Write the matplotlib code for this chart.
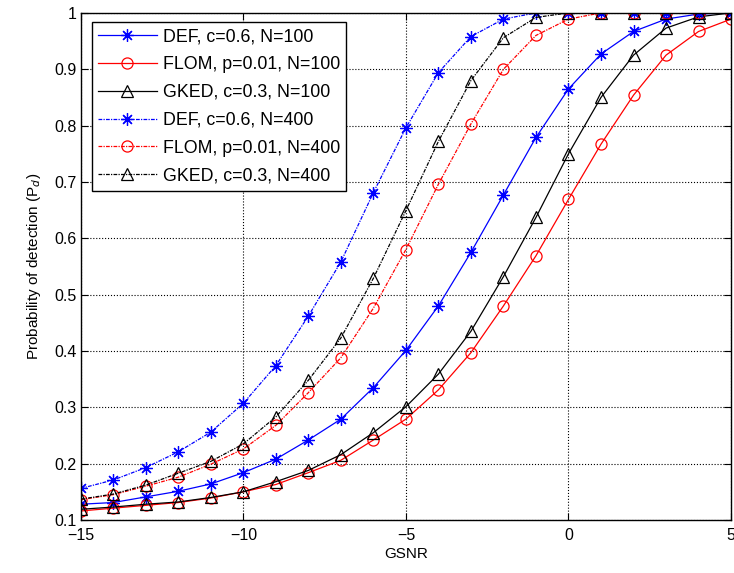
import matplotlib
matplotlib.use("Agg")
import matplotlib.pyplot as plt
import numpy as np

plt.rcParams['font.family'] = ['Liberation Sans', 'DejaVu Sans']

gsnr = np.arange(-15, 6)

def_100 = [0.128, 0.131, 0.141, 0.151, 0.164, 0.184, 0.208, 0.242, 0.279, 0.335, 0.401,
           0.480, 0.575, 0.677, 0.779, 0.865, 0.927, 0.967, 0.989, 0.998, 1.0]
flom_100 = [0.116, 0.121, 0.126, 0.131, 0.139, 0.150, 0.163, 0.184, 0.206, 0.242, 0.279,
            0.331, 0.397, 0.480, 0.569, 0.669, 0.767, 0.854, 0.925, 0.967, 0.989]
gked_100 = [0.119, 0.123, 0.128, 0.132, 0.140, 0.150, 0.168, 0.188, 0.216, 0.255, 0.301,
            0.359, 0.435, 0.532, 0.637, 0.750, 0.850, 0.925, 0.973, 0.993, 1.0]
def_400 = [0.156, 0.171, 0.193, 0.221, 0.256, 0.307, 0.374, 0.462, 0.558, 0.681, 0.796,
           0.894, 0.958, 0.989, 1.0, 1.0, 1.0, 1.0, 1.0, 1.0, 1.0]
flom_400 = [0.136, 0.145, 0.160, 0.176, 0.199, 0.226, 0.268, 0.326, 0.388, 0.476, 0.580,
            0.696, 0.803, 0.900, 0.960, 0.989, 1.0, 1.0, 1.0, 1.0, 1.0]
gked_400 = [0.137, 0.146, 0.162, 0.183, 0.204, 0.235, 0.283, 0.348, 0.423, 0.529, 0.649,
            0.772, 0.880, 0.956, 0.992, 1.0, 1.0, 1.0, 1.0, 1.0, 1.0]

dotted = (0, (3, 1, 1, 1))
star = (8, 2, 0)

series = [
    (def_100, 'b', star, '-', 'DEF, c=0.6, N=100'),
    (flom_100, 'r', 'o', '-', 'FLOM, p=0.01, N=100'),
    (gked_100, 'k', '^', '-', 'GKED, c=0.3, N=100'),
    (def_400, 'b', star, dotted, 'DEF, c=0.6, N=400'),
    (flom_400, 'r', 'o', dotted, 'FLOM, p=0.01, N=400'),
    (gked_400, 'k', '^', dotted, 'GKED, c=0.3, N=400'),
]

fig = plt.figure(figsize=(7.34, 5.73), dpi=100)
ax = fig.add_axes([0.110, 0.0925, 0.886, 0.885])

for vals, col, mk, ls, lab in series:
    size = 8 if mk == 'o' else 9
    ax.plot(gsnr, vals, color=col, linestyle=ls, linewidth=0.9, marker=mk,
            markersize=size, markerfacecolor='none', markeredgecolor=col,
            markeredgewidth=0.9, label=lab)

ax.set_xlim(-15, 5)
ax.set_ylim(0.1, 1)
ax.set_xticks([-15, -10, -5, 0, 5])
ax.set_yticks(np.arange(0.1, 1.01, 0.1))
ax.set_yticklabels(['0.1', '0.2', '0.3', '0.4', '0.5', '0.6', '0.7', '0.8', '0.9', '1'])
ax.tick_params(direction='in', top=True, right=True, labelsize=11.5, length=5, pad=3)
ax.tick_params(axis='x', pad=6)
ax.grid(True, color='k', linestyle=':', linewidth=0.8)
for s in ax.spines.values():
    s.set_linewidth(1.0)

ax.set_xlabel('GSNR', fontsize=11, labelpad=3)
ax.set_ylabel('Probability of detection (P$_d$)', fontsize=11, labelpad=8)

leg = ax.legend(loc='upper left', bbox_to_anchor=(0.017, 0.982), borderaxespad=0,
                fontsize=12.8, fancybox=False, framealpha=1, edgecolor='k',
                borderpad=0.35, labelspacing=0.61, handlelength=3.3,
                handletextpad=0.35)
leg.get_frame().set_linewidth(1.0)

fig.savefig('out.png', dpi=100)
